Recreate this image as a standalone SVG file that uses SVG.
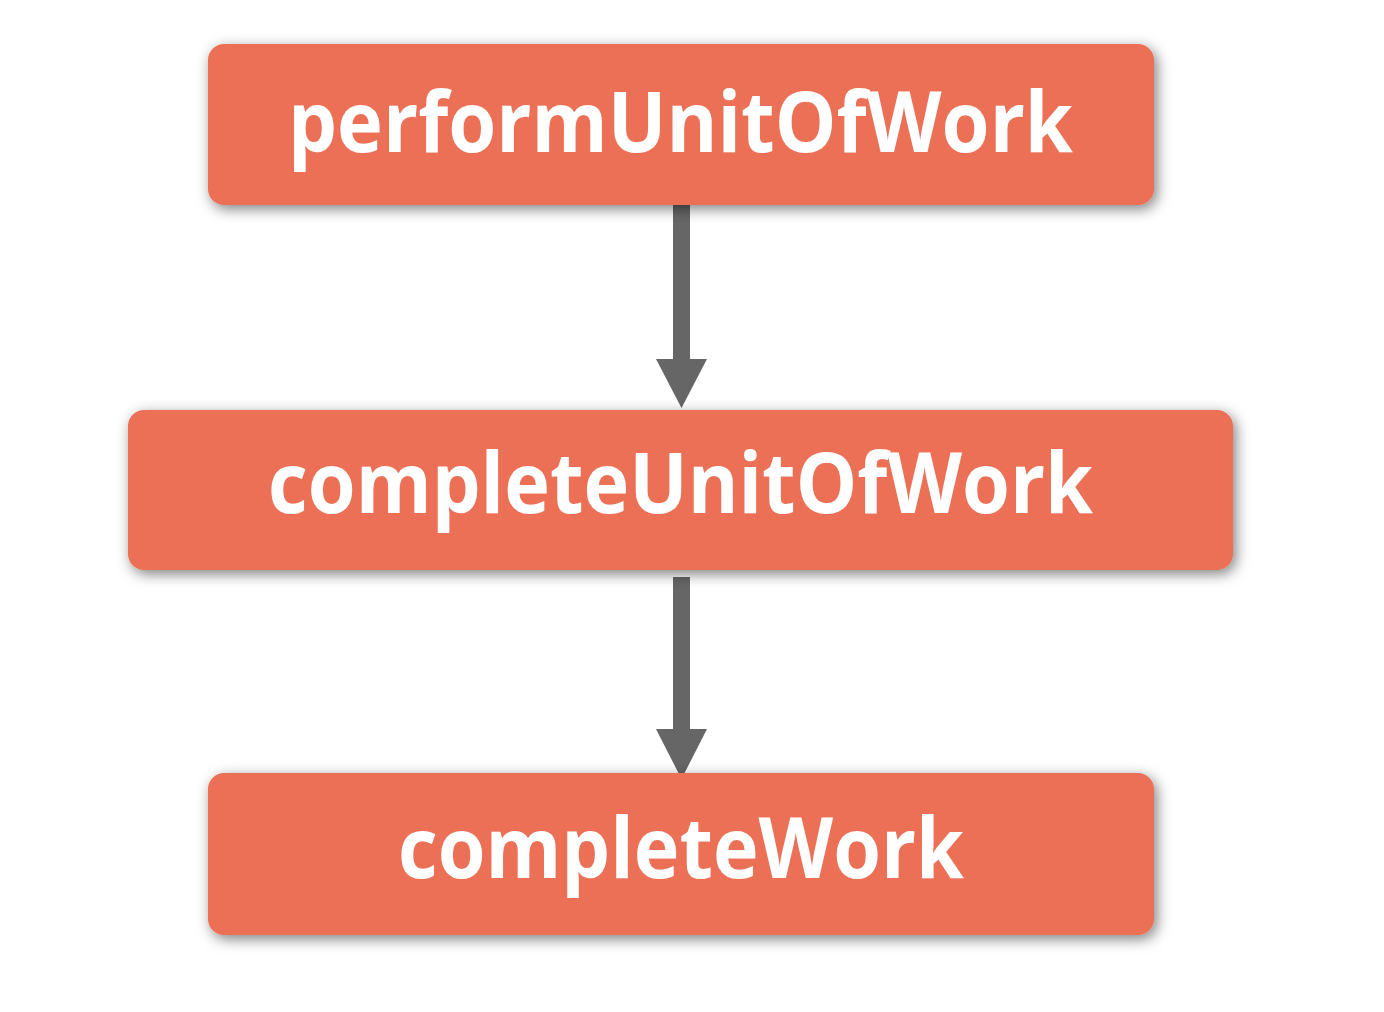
<svg xmlns="http://www.w3.org/2000/svg" width="1384" height="1012" viewBox="0 0 1384 1012">
  <defs>
    <filter id="shadow" x="-10%" y="-30%" width="120%" height="160%">
      <feDropShadow dx="3" dy="4" stdDeviation="7" flood-color="#000000" flood-opacity="0.5"/>
    </filter>
  </defs>
  <style>
    .box { fill: #EB7055; filter: url(#shadow); }
    .label { fill: #FFFFFF; font-family: "Open Sans", "Noto Sans", "Liberation Sans", sans-serif; font-weight: 700; font-size: 85px; text-anchor: middle; }
    .shaft { stroke: #666666; stroke-width: 17; fill: none; }
    .head { fill: #666666; }
  </style>
  <rect width="1384" height="1012" fill="#FFFFFF"/>
  <g id="connectors">
    <g id="edge1">
      <line class="shaft" x1="681.5" y1="205" x2="681.5" y2="362"/>
      <polygon class="head" points="656,359 707,359 681.5,408"/>
    </g>
    <g id="edge2">
      <line class="shaft" x1="681.5" y1="577" x2="681.5" y2="732"/>
      <polygon class="head" points="656,729 707,729 681.5,779"/>
    </g>
  </g>
  <g id="node-performUnitOfWork">
    <rect class="box" x="208" y="44" width="946" height="161" rx="16" ry="16"/>
    <text class="label" x="680.5" y="152" textLength="785" lengthAdjust="spacingAndGlyphs">performUnitOfWork</text>
  </g>
  <g id="node-completeUnitOfWork">
    <rect class="box" x="128" y="410" width="1105" height="160" rx="16" ry="16"/>
    <text class="label" x="680.5" y="513" textLength="825" lengthAdjust="spacingAndGlyphs">completeUnitOfWork</text>
  </g>
  <g id="node-completeWork">
    <rect class="box" x="208" y="773" width="946" height="162" rx="16" ry="16"/>
    <text class="label" x="681" y="878" textLength="566" lengthAdjust="spacingAndGlyphs">completeWork</text>
  </g>
</svg>
